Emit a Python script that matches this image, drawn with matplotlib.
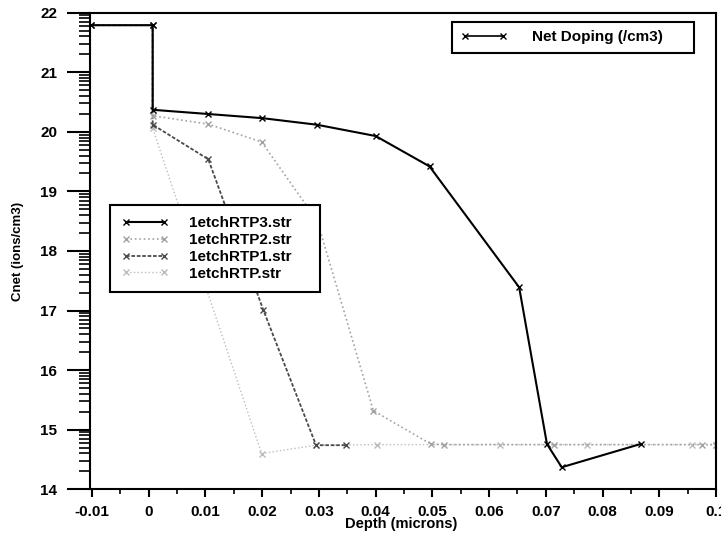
import numpy as np
import matplotlib.pyplot as plt
from matplotlib.lines import Line2D

plt.rcParams['font.family'] = ['Liberation Sans', 'DejaVu Sans']
plt.rcParams['font.weight'] = 'bold'

# depth profiles (microns) and log10 of net doping
depth_rtp3 = [-0.0102, 0.0007, 0.0007, 0.0104, 0.0200, 0.0296, 0.0400, 0.0495, 0.0653, 0.0702, 0.0728, 0.0867]
cnet_rtp3 = [21.79, 21.79, 20.37, 20.30, 20.23, 20.12, 19.93, 19.42, 17.39, 14.76, 14.37, 14.76]

depth_rtp2 = [-0.0102, 0.0007, 0.0007, 0.0105, 0.0199, 0.0297, 0.0396, 0.0497, 0.0520, 0.0715, 0.0975, 0.1000]
cnet_rtp2 = [21.79, 21.79, 20.27, 20.13, 19.83, 18.51, 15.32, 14.76, 14.75, 14.75, 14.75, 14.75]

depth_rtp1 = [-0.0102, 0.0007, 0.0007, 0.0105, 0.0202, 0.0295, 0.0348]
cnet_rtp1 = [21.79, 21.79, 20.12, 19.54, 17.01, 14.74, 14.74]

depth_rtp = [-0.0102, 0.0007, 0.0007, 0.0199, 0.0295, 0.0402, 0.0620, 0.0772, 0.0958, 0.1000]
cnet_rtp = [21.79, 21.79, 20.06, 14.60, 14.74, 14.75, 14.75, 14.75, 14.75, 14.75]

x_ticks = [-0.01, 0, 0.01, 0.02, 0.03, 0.04, 0.05, 0.06, 0.07, 0.08, 0.09, 0.1]
x_tick_labels = ['-0.01', '0', '0.01', '0.02', '0.03', '0.04', '0.05', '0.06', '0.07', '0.08', '0.09', '0.1']
y_ticks = [14, 15, 16, 17, 18, 19, 20, 21, 22]

fig = plt.figure(figsize=(7.21, 5.33), dpi=100)
ax = fig.add_axes([0.1248, 0.082, 0.8683, 0.8942])

series = [
    (depth_rtp, cnet_rtp, '1etchRTP.str', '#bdbdbd', ':', 1.0),
    (depth_rtp1, cnet_rtp1, '1etchRTP1.str', '#4a4a4a', (0, (2, 1)), 1.3),
    (depth_rtp2, cnet_rtp2, '1etchRTP2.str', '#a2a2a2', ':', 1.2),
    (depth_rtp3, cnet_rtp3, '1etchRTP3.str', 'black', '-', 1.5),
]
lines = {}
for x, y, name, col, ls, lw in series:
    ln, = ax.plot(x, y, color=col, linestyle=ls, linewidth=lw,
                  marker='x', markersize=5, markeredgewidth=1.0, label=name)
    lines[name] = ln

ax.set_xlim(-0.01035, 0.1)
ax.set_ylim(14, 22)

ax.set_xticks(x_ticks)
ax.set_xticklabels(x_tick_labels)
ax.set_xticks(np.arange(-0.005, 0.1, 0.01), minor=True)
ax.set_yticks(y_ticks)
ax.set_yticklabels([str(v) for v in y_ticks])
# log-style minor ticks inside each decade
minor_y = [d + np.log10(k) for d in range(14, 22) for k in range(2, 10)]
ax.set_yticks(minor_y, minor=True)

ax.tick_params(axis='both', which='major', direction='out', labelsize=11, width=1.5)
ax.tick_params(axis='y', which='major', length=16.5, pad=7)
ax.tick_params(axis='y', which='minor', length=8, width=1.2)
ax.tick_params(axis='x', which='major', length=5.5, pad=6)
ax.tick_params(axis='x', which='minor', length=3.6, width=1.2)
for s in ax.spines.values():
    s.set_linewidth(1.5)

ax.set_xlabel('Depth (microns)', fontsize=10.5, fontweight='bold')
ax.xaxis.set_label_coords(0.497, -0.073)
ax.xaxis.label.set_va('center')
ax.set_ylabel('Cnet (ions/cm3)', fontsize=9.5, fontweight='bold')
ax.yaxis.set_label_coords(-0.115, 0.5)
ax.yaxis.label.set_va('center')

order = ['1etchRTP3.str', '1etchRTP2.str', '1etchRTP1.str', '1etchRTP.str']
leg = ax.legend([lines[n] for n in order], order, loc='upper left',
                bbox_to_anchor=(0.032, 0.4224, 0.335, 0.1741), mode='expand',
                numpoints=2, handlelength=3.1, handletextpad=1.35, borderpad=0.75,
                labelspacing=0.18, borderaxespad=0, fancybox=False,
                edgecolor='black', framealpha=1, prop={'size': 11, 'weight': 'bold'})
leg.get_frame().set_linewidth(1.5)
ax.add_artist(leg)

net = Line2D([], [], color='black', linewidth=1.2, marker='x', markersize=5)
leg2 = ax.legend([net], ['Net Doping (/cm3)'], loc='upper left',
                 bbox_to_anchor=(0.578, 0.909, 0.387, 0.0715), mode='expand',
                 numpoints=2, handlelength=3.1, handletextpad=1.6, borderpad=0.55,
                 borderaxespad=0, fancybox=False, edgecolor='black', framealpha=1,
                 prop={'size': 11, 'weight': 'bold'})
leg2.get_frame().set_linewidth(1.5)

fig.savefig('out.png', dpi=100)
